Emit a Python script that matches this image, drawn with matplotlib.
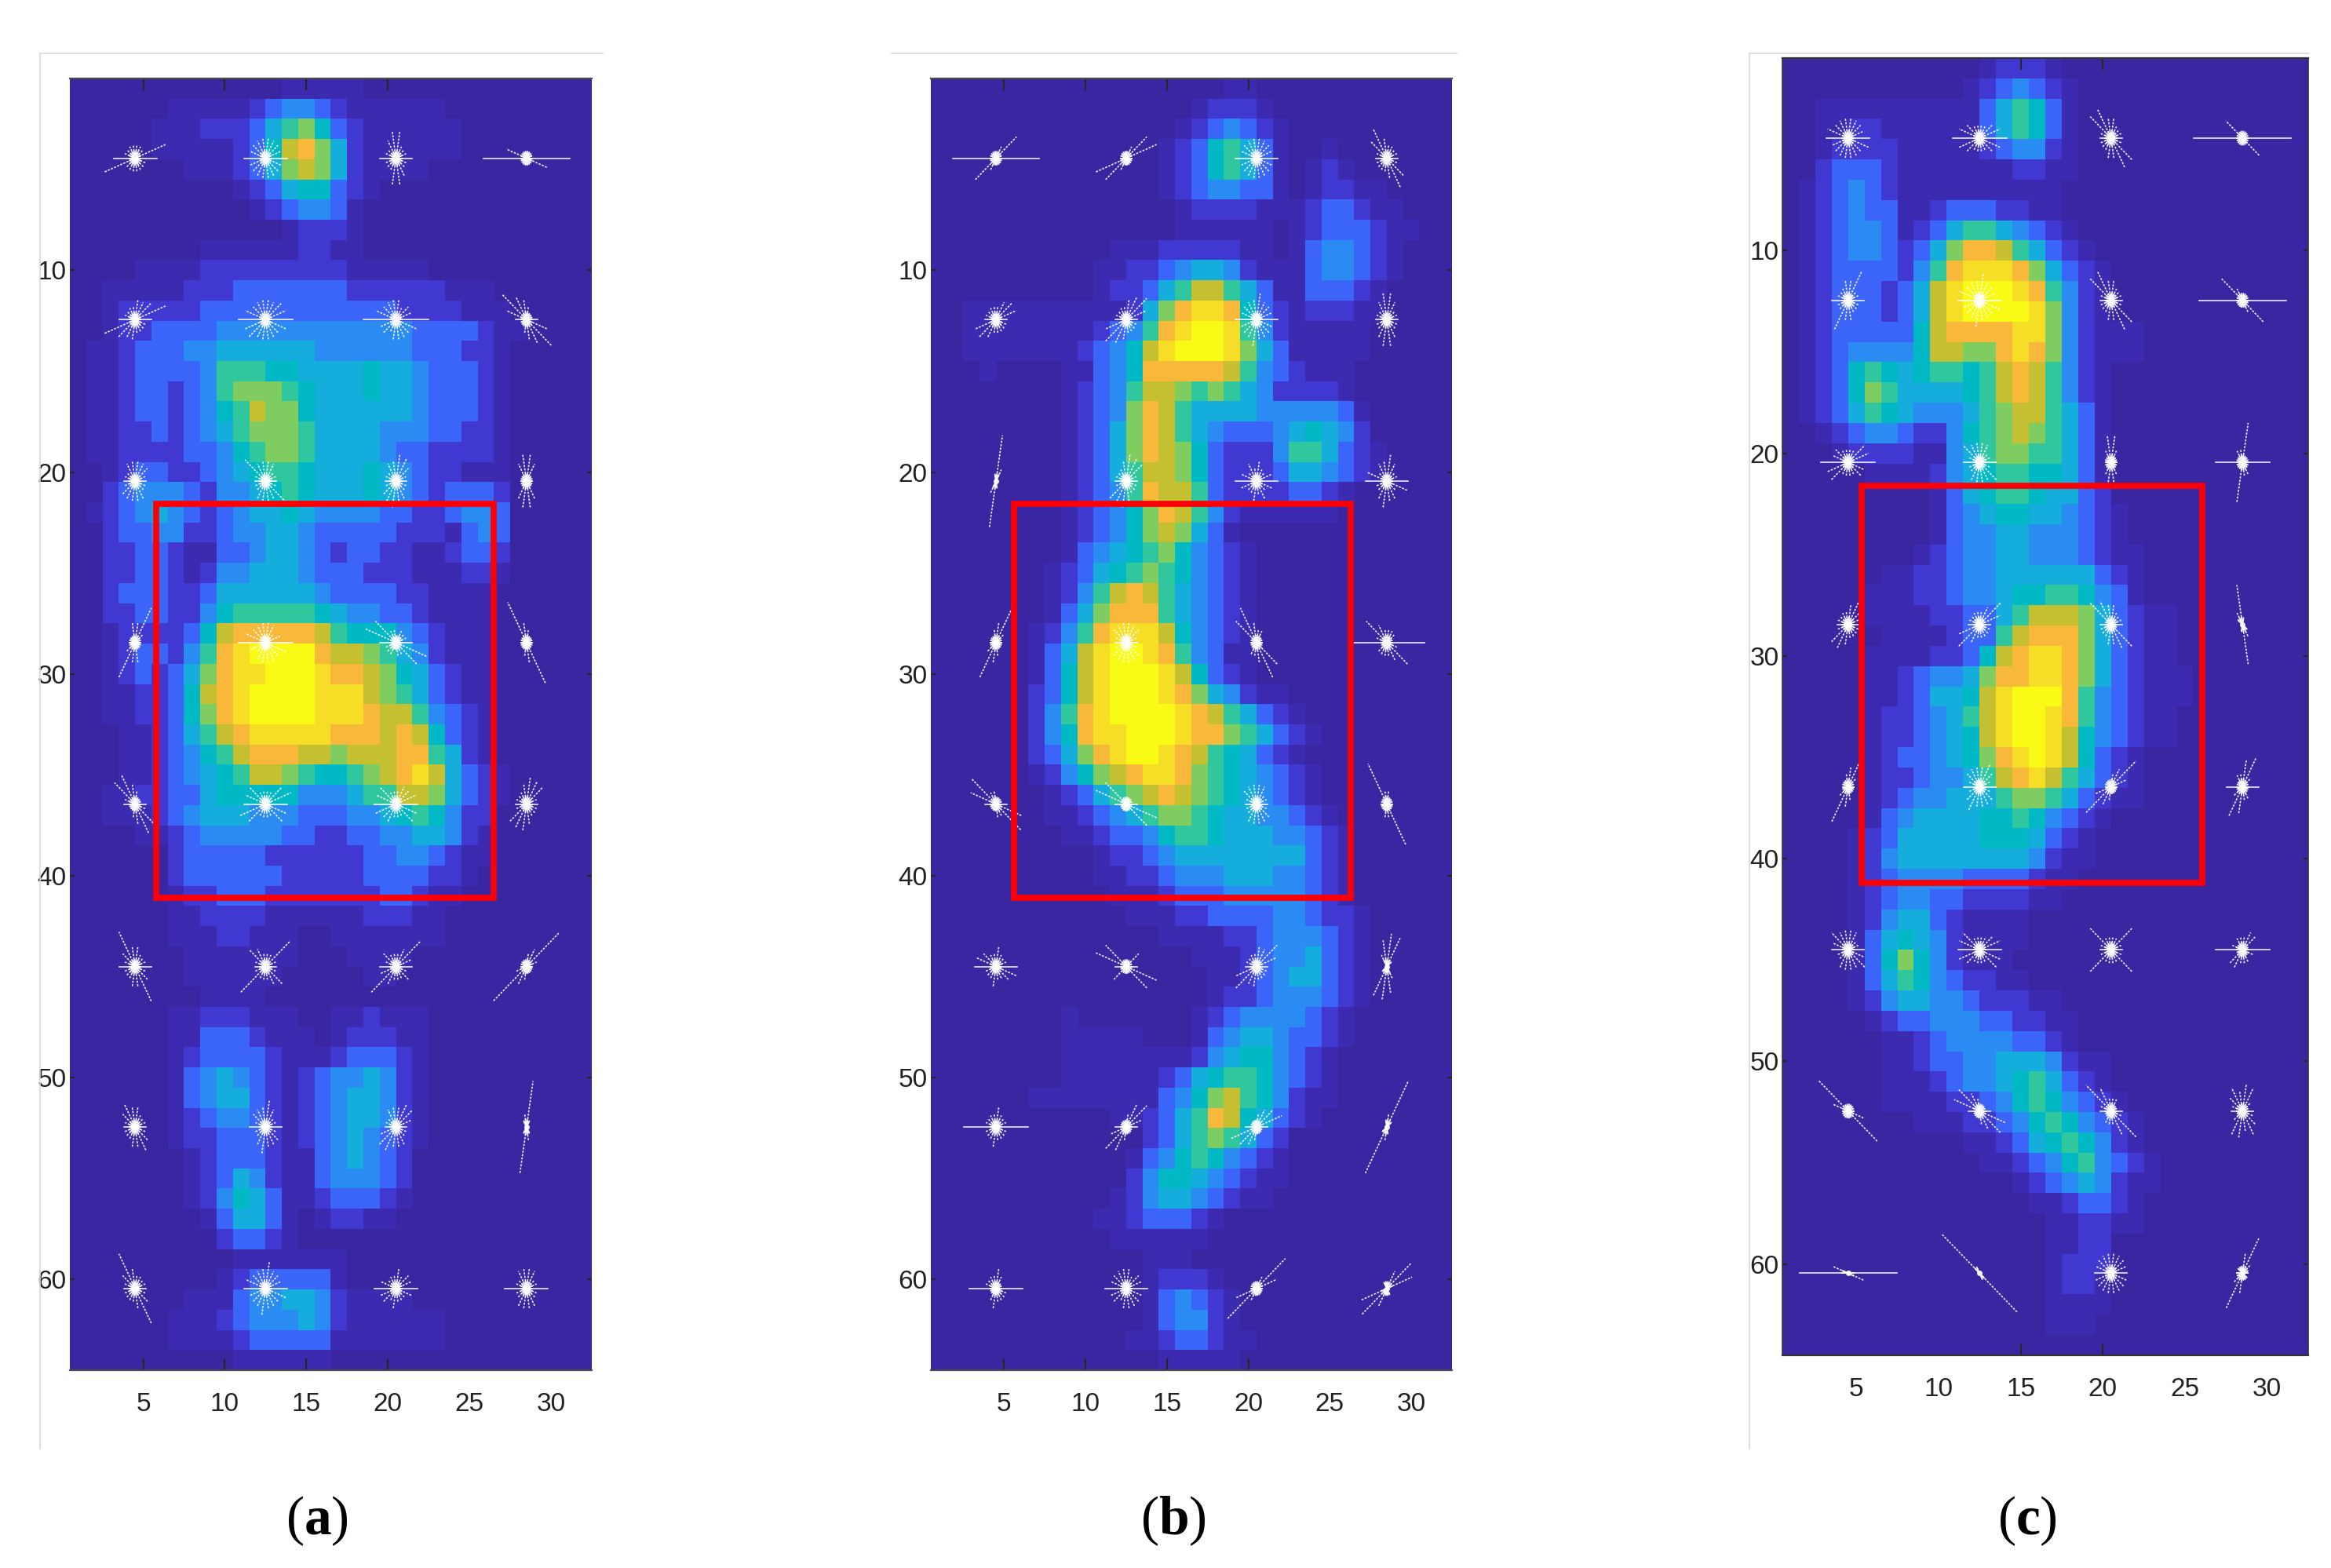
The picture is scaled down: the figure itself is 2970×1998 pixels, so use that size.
"""Rebuild the three body heat maps with their gradient-star overlays."""

from __future__ import annotations

import math

import matplotlib

matplotlib.use("Agg")
from matplotlib import pyplot as plt
from matplotlib.colors import ListedColormap
from matplotlib.lines import Line2D
from matplotlib.patches import Rectangle
import numpy as np

FIG_W, FIG_H = 2970, 1998

LEVEL_COLORS = [
    "#3a26a1", "#3c2ab0", "#4138d2", "#3b64f8", "#2a8cf2", "#15aedc", "#00b9c4",
    "#30c79f", "#7fcc60", "#c5c032", "#f8b93a", "#f6de27", "#f9fb15",
]

# one string per image row, one level character (0-9, a-c) per column
HEAT_A = [
    "000000000000011111",
    "00000011111234432111111",
    "00000111222357863211111100000000",
    "00000111112369a85211111100000000",
    "00000001112358985211110000000000",
    "0000000000123566321",
    "00000000000123443100000000000000",
    "00000000000001222100",
    "00000000111111221100",
    "00001111222222222111110000000000",
    "00111112223333333222222111000000",
    "00122222333333333333222211100000",
    "00122333344444444444433332110000",
    "011233344 555555 444444 333221 00000",
    "011233334 77766 5555 6 55 4 3332 1 00000",
    "011233234 788876 555 6 55 4 3332 1 00000",
    "011233234 679886 555 5 55 4 3332 1 00000",
    "011223234 578887 555 5 44 4 3322 1 00000",
    "011222233 467887 555 5 43 3 2222 1 00000",
    "001233223 456776 555 6 54 3 2211 1 00000",
    "002344432 445676 555 6 54 3 2333 2 00000",
    "012345432 345565 444 4 33 2 2344 3 00000",
    "002334422 344554 333 3 32 2 2134 3 00000",
    "002233211 334554 323 3 22 1 1233 2 00000",
    "002233212 445554 333 2 22 1 1122 1 00000",
    "002333223 555555 433 3 32 2 1111 0 00000",
    "002233224 677777 654 4 33 2 1111 0 00000",
    "001222236 9aaaaa 976 6 64 3 2111 0 00000",
    "001233247 abcccc a99 8 75 4 2111 0 00000",
    "001232358 abbccc baa 9 86 5 3211 0 00000",
    "001122369 abcccc bbb 9 87 5 3211 0 00000",
    "001122368 abcccc bbb a 99 7 4321 0 00000",
    "000112357 9abbbb baa a 9a 9 6321 0 00000",
    "000112346 79aaa9 989 9 9a a 7521 0 00000",
    "000112345 679987 667 8 9a b 9532 1 00000",
    "001122335 666664 445 7 79 9 8532 1 00000",
    "001112345 554443 334 4 56 7 6422 0 00000",
    "000011234 444433 223 3 44 5 5421 0 00000",
    "000000233 333222 222 3 34 4 3211 0 00000",
    "000000233 333322 222 3 33 3 2210 0 00000",
    "000000122 333222 222 2 33 2 1100 0 00000",
    "000000112 222111 111 2 22 1 1000 0 00000",
    "000000111 221110 011 1 11 1 1000 0 00000",
    "000000011 111110 001 1 11 0 0000 0 00000",
    "000000011 111100 000 1 10 0 0000 0 00000",
    "000000001 111000",
    "000000112 221110 011 2 11 1 0000 0 00000",
    "000000113 332111 012 2 21 1 0000 0 00000",
    "000000123 333211 123 3 32 1 0000 0 00000",
    "000000134 543212 344 5 42 1 0000 0 00000",
    "000000134 553212 345 5 42 1 0000 0 00000",
    "000000123 443212 345 5 42 1 0000 0 00000",
    "000000122 333212 345 4 32 1 0000 0 00000",
    "000000012 333211 345 4 32 0",
    "000000012 354211 344 4 32 0",
    "000000012 465311 233 3 21 0",
    "000000001 355310 122 1 10",
    "000000000 233210",
    "000000000 011111 110",
    "000000000 123333 310",
    "000000011 134455 421 1 11",
    "000000111 234445 421 1 11 1 1000",
    "000000111 123333 311 1 11 1 1000",
    "000000000 011111 100",
]

HEAT_B = [
    "000000000000000000 11",
    "0000000000000000 12221",
    "0000000000000001 234321",
    "000000000000001 2367531 00 1",
    "000000000000001 2367531 01 21",
    "000000000000001 2344331 01 2211",
    "000000000000000 1222211 12 33211",
    "000000000000000 1111110 12 3332 11",
    "00000000000 1112222211 0 1344321",
    "0000000000 1122345542 111 344321",
    "0000000000 12235799753 1133321",
    "001111111111 258abba632 122211",
    "0011111111 234 7abccb 742 11111",
    "001111111 2 346 9bcccb 853 11111",
    "0001000011 346 aaaaa9 743 21110",
    "0000000012 347 998787 542 22210",
    "0000000012 348 a97555 544 44431",
    "0000000012 358 a97543 334 56542",
    "0000000012 358 a98632 224 77532 1",
    "0000000012 357 998632 223 55432 1",
    "0000000012 347 a99732 222 33210",
    "0000000012 346 8a9742 111 11100",
    "0000000012 346 898531",
    "000000001 3 456 786432 100",
    "000000012 3 567 876432 100",
    "000000012 4 79a 975432 100",
    "000000013 5 8aa a75432 100",
    "000000124 7 abb b96432 100",
    "000000135 9 bcc ba7431 100",
    "000000136 9 bcc cb9632 100",
    "000000236 9 bcc cba854 211",
    "000000247 a bcc ccba97 532 1",
    "000000246 a bbc ccbaa8 753 21",
    "000000235 8 abc cba976 532 1",
    "000000124 6 89a bba876 543 21",
    "000000012 3 578 9a9876 543 21",
    "000000011 2 345 788765 544 321",
    "000000001 1 233 467765 554 4321",
    "000000000 0 122 345555 555 5321",
    "000000000 0 112 234445 554 4321",
    "000000000 0 011 123334 444 4321",
    "000000000 0 001 112233 334 43221",
    "000000000 0 000 011112 234 44321",
    "000000000 0 000 000111 234 45321",
    "000000000 0 000 000011 234 55321",
    "000000000 0 000 000012 234 44321",
    "000000001 0 000 000123 444 4321",
    "000000001 1 111 000134 554 33 21",
    "000000001 1 111 111245 664 321",
    "000000001 1 111 123567 764 321",
    "000000111 1 111 134689 764 211",
    "000000000 0 011 2357a9 653 21",
    "000000000 0 000 235787 532",
    "000000000 0 001 346764 321",
    "000000000 0 002 466543 211",
    "000000000 0 012 455432 110",
    "000000000 0 112 333210",
    "000000000 0 011 111100",
    "000000000 0 000 111000",
    "000000000 0 000 122210",
    "000000000 0 000 134321",
    "000000000 0 000 134421",
    "000000000 0 001 123321 1",
    "000000000 0 000 011111",
]

HEAT_C = [
    "000000000000 12221",
    "000000000001 234321",
    "001111111111 357631",
    "001122111111 357631",
    "001222211111 234421",
    "002333211111 112211",
    "012343211111 111110",
    "012343311233 322110",
    "012344312357 754321",
    "01234432358a a97532 1",
    "0123333247ab bba853 21",
    "01233323 59bc ccba74 21",
    "01233323 59bc cccb84 21",
    "012333336 9aa aabb84 2111",
    "012344446 998 8aba84 2111",
    "012367656776 79a974 21",
    "012368755556 79a974 21",
    "012357654445 789975 31",
    "001234432246 789875 31",
    "000122221145 788775 31",
    "000001111245 677665 31",
    "000000000135 677655 32",
    "000000000134 566554 321",
    "000000000134 455444 321",
    "000000001234 455444 3211",
    "000000112234 455555 5321",
    "000001112234 456677 6431",
    "000001111223 357999 853211",
    "000000111123 379aaa 853211",
    "000001111223 69abba 853211",
    "000001123445 8aabba 8532111",
    "000001123556 9bccca 7432111",
    "000001223457 9bccba 743211",
    "000001223456 9bccb9 643211",
    "000001233456 8abcb9 6321",
    "000001223445 79ab97 5321",
    "000001234455 578875 3211",
    "000001345555 667643 21",
    "000012355555 666532 1",
    "000012455555 555421 1",
    "000012344443 333211",
    "000012344332 222110",
    "000012455321 111000",
    "000013565421 111000",
    "000013686421 110000",
    "000013576432 211000",
    "000012455443 222110",
    "000001233444 332211",
    "000000112344 443321",
    "000000112334 455542 11",
    "000000111234 456753 21",
    "000000111122 346764 321",
    "000000001112 234676 4321",
    "000000000001 123567 6421",
    "000000000000 112346 74321",
    "000000000000 001234 54211",
    "000000000000 000112 3321",
    "000000000000 000011 2211",
    "000000000000 000011 22",
    "000000000000 000012 22",
    "000000000000 000012 21",
    "000000000000 000011 11",
    "000000000000 000011 1",
    "00000000000000000000",
]

STAR_ROWS = [4.45, 12.45, 20.45, 28.45, 36.45, 44.5, 52.45, 60.45]
STAR_COLS = [4.5, 12.5, 20.5, 28.5]
STAR_ANGLES = [0, 20, 40, 60, 80, 100, 120, 140, 160]

# ray half length per angle, one row of four stars per line
STARS_A = [
    "462222222", "433333333", "322244322", "811111114",
    "364332222", "544333334", "633233334", "211123464",
    "223333322", "222333352", "223443322", "111344311",
    "112633111", "532333334", "322212256", "111123711",
    "211123552", "454222244", "443322244", "224443222",
    "322233632", "226222342", "336322232", "128321111",
    "222233432", "322343332", "234433322", "000172100",
    "222223632", "433343334", "433232223", "422333322",
]
STARS_B = [
    "815211111", "165211111", "433333333", "222223542",
    "244322222", "245432222", "433343333", "222344322",
    "000271000", "224443222", "432232323", "422343324",
    "112632111", "223333332", "111223651", "712222352",
    "211112265", "211111156", "222333332", "111122711",
    "422232234", "213111156", "245332222", "001554200",
    "622232222", "235421111", "254321111", "001821000",
    "511232222", "433233333", "147211111", "056311100",
]
STARS_C = [
    "433333334", "543222234", "222233552", "911111141",
    "322533222", "433343334", "222233552", "811111251",
    "544222233", "322333342", "111244211", "511162211",
    "224432222", "245322222", "222233451", "000016210",
    "112632111", "323433332", "136321111", "312542211",
    "322333343", "443222244", "225222252", "513322212",
    "111111173", "211112355", "211222462", "212443432",
    "900000003", "000000190", "333333333", "112631110",
]

X_TICKS = [5, 10, 15, 20, 25, 30]
Y_TICKS = [10, 20, 30, 40, 50, 60]
CAPTIONS = ["a", "b", "c"]

# left, top, right, bottom in pixels
PANEL_BOXES = [(89, 100, 754, 1746), (1186, 100, 1850, 1746), (2271, 74, 2941, 1727)]
RED_BOXES = [(5.77, 21.56, 26.5, 41.1), (5.6, 21.56, 26.3, 41.1), (5.3, 21.6, 26.05, 41.2)]
CAPTION_X = [404, 1495, 2583]
VISIBLE_X_TICKS = [(5, 10, 15, 20), (5, 10, 15, 20), (15, 20)]
SIDE_SPINES = [False, False, True]


def main() -> int:
    plt.rcParams["mathtext.fontset"] = "custom"
    plt.rcParams["mathtext.rm"] = "Liberation Serif"
    plt.rcParams["mathtext.bf"] = "Liberation Serif:bold"

    fig = plt.figure(figsize=(FIG_W / 100, FIG_H / 100), dpi=100, facecolor="white")
    cmap = ListedColormap(LEVEL_COLORS)
    panels = zip(
        [HEAT_A, HEAT_B, HEAT_C],
        [STARS_A, STARS_B, STARS_C],
        PANEL_BOXES,
        RED_BOXES,
        VISIBLE_X_TICKS,
        SIDE_SPINES,
    )
    for rows, stars, box, red, visible, sides in panels:
        left, top, right, bottom = box
        ax = fig.add_axes(
            [
                left / FIG_W,
                1 - bottom / FIG_H,
                (right - left) / FIG_W,
                (bottom - top) / FIG_H,
            ]
        )
        _draw_panel(ax, rows, stars, red, visible, sides, cmap)

    for index, letter in enumerate(CAPTIONS):
        fig.text(
            CAPTION_X[index] / FIG_W,
            1 - 1938 / FIG_H,
            rf"$(\mathbf{{{letter}}})$",
            fontsize=50,
            ha="center",
            va="center",
        )

    _frame_line(fig, 51, 68, 768, 68)
    _frame_line(fig, 51, 68, 51, 1846)
    _frame_line(fig, 1136, 68, 1856, 68)
    _frame_line(fig, 2229, 68, 2942, 68)
    _frame_line(fig, 2229, 68, 2229, 1846)

    fig.savefig("out.png", dpi=100)
    plt.close(fig)
    return 0


def _parse_heat(rows: list[str]) -> np.ndarray:
    grid = []
    for row in rows:
        cells = row.replace(" ", "").ljust(32, "0")[:32]
        grid.append([int(cell, 16) for cell in cells])
    return np.array(grid)


def _draw_panel(ax, rows, stars, red, visible, sides, cmap) -> None:
    ax.imshow(
        _parse_heat(rows),
        cmap=cmap,
        vmin=-0.5,
        vmax=12.5,
        aspect="auto",
        interpolation="nearest",
        extent=(0.5, 32.5, 64.5, 0.5),
    )
    index = 0
    for y in STAR_ROWS:
        for x in STAR_COLS:
            _draw_star(ax, x, y, stars[index])
            index += 1

    x0, y0, x1, y1 = red
    ax.add_patch(
        Rectangle(
            (x0, y0),
            x1 - x0,
            y1 - y0,
            fill=False,
            edgecolor="#fb0007",
            linewidth=5.6,
            joinstyle="miter",
            zorder=6,
        )
    )

    ax.set_xlim(0.5, 32.5)
    ax.set_ylim(64.5, 0.5)
    ax.set_xticks(X_TICKS)
    ax.set_yticks(Y_TICKS)
    ax.tick_params(axis="x", direction="in", top=True, length=11, width=1.6, color="#262626", pad=20)
    ax.tick_params(axis="y", direction="in", right=True, length=4, width=1.6, color="#262626", pad=3)
    for tick, value in zip(ax.xaxis.get_major_ticks(), X_TICKS):
        if value not in visible:
            tick.tick1line.set_visible(False)
            tick.tick2line.set_visible(False)
    for label in ax.get_xticklabels() + ax.get_yticklabels():
        label.set_family(["Liberation Sans Narrow", "Liberation Sans"])
        label.set_fontsize(24)
        label.set_color("#222222")
    for name in ("left", "right"):
        ax.spines[name].set_visible(sides)
        ax.spines[name].set_color("#333333")
        ax.spines[name].set_linewidth(1.2)
    for name in ("top", "bottom"):
        ax.spines[name].set_color("#333333" if sides else "#4a4a4a")
        ax.spines[name].set_linewidth(1.6)


def _draw_star(ax, x: float, y: float, lengths: str) -> None:
    for angle, digit in zip(STAR_ANGLES, lengths):
        half = int(digit) * 0.33
        if half == 0:
            continue
        dx = half * math.cos(math.radians(angle))
        dy = half * math.sin(math.radians(angle))
        style = "-" if angle == 0 else (0, (1.6, 1.0))
        ax.plot(
            [x - dx, x + dx],
            [y + dy, y - dy],
            color="white",
            linewidth=1.2,
            linestyle=style,
            alpha=0.9,
            zorder=4,
        )
        # the rays merge into a soft core close to the centre
        core = min(half, 0.35) / half
        ax.plot(
            [x - dx * core, x + dx * core],
            [y + dy * core, y - dy * core],
            color="white",
            linewidth=1.4,
            alpha=0.9,
            zorder=4,
        )
    ax.scatter([x], [y], s=25, color="white", linewidths=0, alpha=0.95, zorder=5)


def _frame_line(fig, x0: int, y0: int, x1: int, y1: int) -> None:
    fig.add_artist(
        Line2D(
            [x0 / FIG_W, x1 / FIG_W],
            [1 - y0 / FIG_H, 1 - y1 / FIG_H],
            color="#d9d9d9",
            linewidth=1.2,
        )
    )


if __name__ == "__main__":
    raise SystemExit(main())
